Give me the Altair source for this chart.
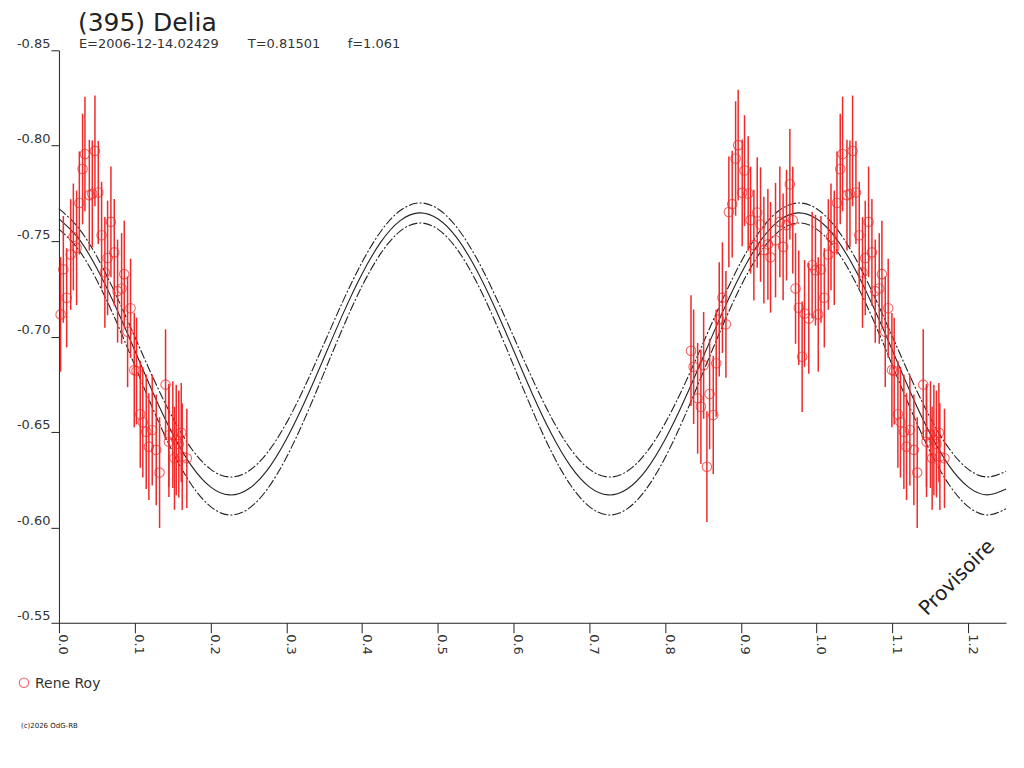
import altair as alt
import pandas as pd

# ---- observations (phase, reduced magnitude, error) ----
phase_obs = [
    0.0022, 0.0058, 0.0102, 0.0155, 0.0190, 0.0233, 0.0269, 0.0312, 0.0343, 0.0401,
    0.0440, 0.0475, 0.0519, 0.0563, 0.0606, 0.0642, 0.0686, 0.0730, 0.0774, 0.0827,
    0.0862, 0.0906, 0.0945, 0.0994, 0.1024, 0.1073, 0.1107, 0.1152, 0.1187, 0.1231,
    0.1284, 0.1328, 0.1407, 0.1450, 0.1451, 0.1503, 0.1525, 0.1548, 0.1582, 0.1614,
    0.1627, 0.1688,
    0.8342, 0.8377, 0.8430, 0.8473, 0.8509, 0.8552, 0.8588, 0.8636, 0.8675, 0.8715,
    0.8757, 0.8803, 0.8842, 0.8886, 0.8931, 0.8965, 0.9018, 0.9049, 0.9097, 0.9129,
    0.9172, 0.9216, 0.9260, 0.9304, 0.9357, 0.9392, 0.9458, 0.9515, 0.9558, 0.9603,
    0.9647, 0.9686, 0.9722, 0.9765, 0.9809, 0.9841, 0.9897, 0.9941, 0.9985,
]
mag_obs = [
    -0.7116, -0.7352, -0.7203, -0.7430, -0.7522, -0.7465, -0.7700, -0.7878, -0.7957, -0.7741,
    -0.7748, -0.7973, -0.7755, -0.7531, -0.7336, -0.7412, -0.7601, -0.7441, -0.7238, -0.7252,
    -0.7327, -0.7025, -0.7148, -0.6824, -0.6819, -0.6593, -0.6551, -0.6501, -0.6423, -0.6510,
    -0.6406, -0.6287, -0.6748, -0.6483, -0.6449, -0.6486, -0.6362, -0.6458, -0.6437, -0.6496,
    -0.6371, -0.6362,
    -0.6926, -0.6842, -0.6676, -0.6632, -0.6849, -0.6318, -0.6699, -0.6589, -0.6860, -0.7090,
    -0.7204, -0.7064, -0.7653, -0.7694, -0.7933, -0.8003, -0.7753, -0.7870, -0.7750, -0.7610,
    -0.7479, -0.7650, -0.7587, -0.7453, -0.7483, -0.7415, -0.7505, -0.7601, -0.7470, -0.7584,
    -0.7798, -0.7610, -0.7252, -0.7151, -0.6894, -0.7121, -0.7095, -0.7374, -0.7348,
]
err_obs = [
    0.030, 0.028, 0.026, 0.029, 0.028, 0.030, 0.027, 0.029, 0.030, 0.029,
    0.028, 0.029, 0.027, 0.028, 0.029, 0.030, 0.029, 0.028, 0.027, 0.029,
    0.028, 0.029, 0.026, 0.030, 0.028, 0.028, 0.029, 0.030, 0.028, 0.029,
    0.029, 0.029, 0.029, 0.027, 0.029, 0.028, 0.027, 0.029, 0.028, 0.026,
    0.028, 0.026,
    0.029, 0.030, 0.029, 0.030, 0.028, 0.029, 0.029, 0.031, 0.028, 0.030,
    0.029, 0.028, 0.029, 0.028, 0.030, 0.029, 0.028, 0.029, 0.030, 0.028,
    0.029, 0.029, 0.030, 0.028, 0.029, 0.029, 0.030, 0.029, 0.028, 0.029,
    0.029, 0.028, 0.029, 0.030, 0.029, 0.028, 0.029, 0.028, 0.029,
]

# ---- fitted curve and its envelope ----
curve_phase = [
    0.000, 0.025, 0.050, 0.075, 0.100, 0.125, 0.150, 0.175, 0.200, 0.225,
    0.250, 0.275, 0.300, 0.325, 0.350, 0.375, 0.400, 0.425, 0.450, 0.475,
    0.500, 0.525, 0.550, 0.575, 0.600, 0.625, 0.650, 0.675, 0.700, 0.725,
    0.750, 0.775, 0.800, 0.825, 0.850, 0.875, 0.900, 0.925, 0.950, 0.975,
    1.000, 1.025, 1.050, 1.075, 1.100, 1.125, 1.150, 1.175, 1.200, 1.225,
    1.250,
]
curve_mid = [
    -0.7617, -0.7518, -0.7358, -0.7155, -0.6928, -0.6698, -0.6490, -0.6322, -0.6212, -0.6170,
    -0.6201, -0.6300, -0.6460, -0.6663, -0.6890, -0.7120, -0.7328, -0.7496, -0.7606, -0.7648,
    -0.7617, -0.7518, -0.7358, -0.7155, -0.6928, -0.6698, -0.6490, -0.6322, -0.6212, -0.6170,
    -0.6201, -0.6300, -0.6460, -0.6663, -0.6890, -0.7120, -0.7328, -0.7496, -0.7606, -0.7648,
    -0.7617, -0.7518, -0.7358, -0.7155, -0.6928, -0.6698, -0.6490, -0.6322, -0.6212, -0.6170,
    -0.6201,
]
curve_upper = [
    -0.7670, -0.7573, -0.7419, -0.7221, -0.7000, -0.6777, -0.6575, -0.6412, -0.6305, -0.6264,
    -0.6294, -0.6391, -0.6545, -0.6743, -0.6964, -0.7187, -0.7389, -0.7552, -0.7659, -0.7700,
    -0.7670, -0.7573, -0.7419, -0.7221, -0.7000, -0.6777, -0.6575, -0.6412, -0.6305, -0.6264,
    -0.6294, -0.6391, -0.6545, -0.6743, -0.6964, -0.7187, -0.7389, -0.7552, -0.7659, -0.7700,
    -0.7670, -0.7573, -0.7419, -0.7221, -0.7000, -0.6777, -0.6575, -0.6412, -0.6305, -0.6264,
    -0.6294,
]
curve_lower = [
    -0.7563, -0.7460, -0.7295, -0.7085, -0.6849, -0.6612, -0.6396, -0.6223, -0.6109, -0.6065,
    -0.6097, -0.6200, -0.6365, -0.6575, -0.6811, -0.7048, -0.7264, -0.7437, -0.7551, -0.7595,
    -0.7563, -0.7460, -0.7295, -0.7085, -0.6849, -0.6612, -0.6396, -0.6223, -0.6109, -0.6065,
    -0.6097, -0.6200, -0.6365, -0.6575, -0.6811, -0.7048, -0.7264, -0.7437, -0.7551, -0.7595,
    -0.7563, -0.7460, -0.7295, -0.7085, -0.6849, -0.6612, -0.6396, -0.6223, -0.6109, -0.6065,
    -0.6097,
]

x_ticks = [0.0, 0.05, 0.1, 0.15, 0.2, 0.25, 0.3, 0.35, 0.4, 0.45, 0.5, 0.55, 0.6,
           0.65, 0.7, 0.75, 0.8, 0.85, 0.9, 0.95, 1.0, 1.05, 1.1, 1.15, 1.2, 1.25]
y_ticks = [-0.85, -0.80, -0.75, -0.70, -0.65, -0.60, -0.55]

title_text = "(395) Delia"
sub_texts = ["E=2006-12-14.02429", "T=0.81501", "f=1.061"]
observer = "Rene Roy"
copyright_text = "(c)2026 OdG-RB"
stamp_text = "Provisoire"

RED = "#ee2a2a"
INK = "#222222"
FONT = "DejaVu Sans"

# ---- build tables ----
obs = pd.DataFrame({"phase": phase_obs, "mag": mag_obs, "err": err_obs})
obs_wrap = obs[obs["phase"] + 1.0 <= 1.25].copy()
obs_wrap["phase"] = obs_wrap["phase"] + 1.0
obs_all = pd.concat([obs, obs_wrap], ignore_index=True)
obs_all["lo"] = obs_all["mag"] - obs_all["err"]
obs_all["hi"] = obs_all["mag"] + obs_all["err"]

curves = pd.DataFrame({"phase": curve_phase, "mid": curve_mid,
                       "upper": curve_upper, "lower": curve_lower})

xscale = alt.Scale(domain=[0, 1.25], nice=False, zero=False)
yscale = alt.Scale(domain=[-0.85, -0.55], nice=False, zero=False, reverse=True)

xaxis = alt.Axis(values=x_ticks, title=None, grid=False, tickSize=10,
                 labelAngle=90, labelAlign="left", labelBaseline="alphabetic",
                 labelPadding=1, labelOverlap=False, labelFlush=False,
                 labelExpr="(round(datum.value*100) % 10 == 0) ? format(datum.value, '.1f') : ''")
yaxis = alt.Axis(values=y_ticks, title=None, grid=False, tickSize=8,
                 labelAlign="right", labelBaseline="bottom", labelPadding=1,
                 labelOverlap=False, labelFlush=False,
                 labelExpr="'-' + format(abs(datum.value), '.2f')")

base_c = alt.Chart(curves)
mid_line = base_c.mark_line(color=INK, strokeWidth=1.1, interpolate="natural").encode(
    x=alt.X("phase:Q", scale=xscale, axis=xaxis),
    y=alt.Y("mid:Q", scale=yscale, axis=yaxis),
)
up_line = base_c.mark_line(color=INK, strokeWidth=1.1, strokeDash=[9, 2, 2, 2],
                           interpolate="natural").encode(
    x=alt.X("phase:Q", scale=xscale), y=alt.Y("upper:Q", scale=yscale))
lo_line = base_c.mark_line(color=INK, strokeWidth=1.1, strokeDash=[9, 2, 2, 2],
                           interpolate="natural").encode(
    x=alt.X("phase:Q", scale=xscale), y=alt.Y("lower:Q", scale=yscale))

base_o = alt.Chart(obs_all)
bars = base_o.mark_rule(color=RED, strokeWidth=1.5).encode(
    x=alt.X("phase:Q", scale=xscale),
    y=alt.Y("lo:Q", scale=yscale),
    y2="hi:Q",
)
pts = base_o.mark_point(shape="circle", filled=False, color=RED, size=90,
                        strokeWidth=1.1).encode(
    x=alt.X("phase:Q", scale=xscale),
    y=alt.Y("mag:Q", scale=yscale),
)

one = pd.DataFrame({"k": [0]})
title = alt.Chart(one).mark_text(text=title_text, font=FONT, fontSize=25, color=INK,
                                 align="left", baseline="alphabetic").encode(
    x=alt.value(19), y=alt.value(-19))
sub1 = alt.Chart(one).mark_text(text=sub_texts[0], font=FONT, fontSize=13, color="#333333",
                                align="left", baseline="alphabetic").encode(
    x=alt.value(20), y=alt.value(-2))
sub2 = alt.Chart(one).mark_text(text=sub_texts[1], font=FONT, fontSize=13, color="#333333",
                                align="left", baseline="alphabetic").encode(
    x=alt.value(189), y=alt.value(-2))
sub3 = alt.Chart(one).mark_text(text=sub_texts[2], font=FONT, fontSize=13, color="#333333",
                                align="left", baseline="alphabetic").encode(
    x=alt.value(289), y=alt.value(-2))
stamp = alt.Chart(one).mark_text(text=stamp_text, font=FONT, fontSize=20, color=INK,
                                 angle=315, align="center", baseline="middle").encode(
    x=alt.value(899), y=alt.value(528))
leg_sym = alt.Chart(one).mark_point(shape="circle", filled=False, color=RED, size=90,
                                    strokeWidth=1.1).encode(
    x=alt.value(-35), y=alt.value(633))
leg_txt = alt.Chart(one).mark_text(text=observer, font=FONT, fontSize=14, color="#333333",
                                   align="left", baseline="alphabetic").encode(
    x=alt.value(-24), y=alt.value(638))
copy_txt = alt.Chart(one).mark_text(text=copyright_text, font=FONT, fontSize=7, color=INK,
                                    align="left", baseline="alphabetic").encode(
    x=alt.value(-38), y=alt.value(678))

chart = alt.layer(
    mid_line, up_line, lo_line, bars, pts,
    title, sub1, sub2, sub3, stamp, leg_sym, leg_txt, copy_txt,
).properties(
    width=948, height=573,
    autosize=alt.AutoSizeParams(type="none"),
    padding={"left": 51, "top": 42, "right": 10, "bottom": 130},
    background="white",
).configure_view(stroke=None).configure_axis(
    domainColor=INK, tickColor=INK, labelColor="#333333",
    labelFont=FONT, labelFontSize=13, domainWidth=1, tickWidth=1,
)

chart.save("out.html", embed_options={"renderer": "svg", "actions": False})
